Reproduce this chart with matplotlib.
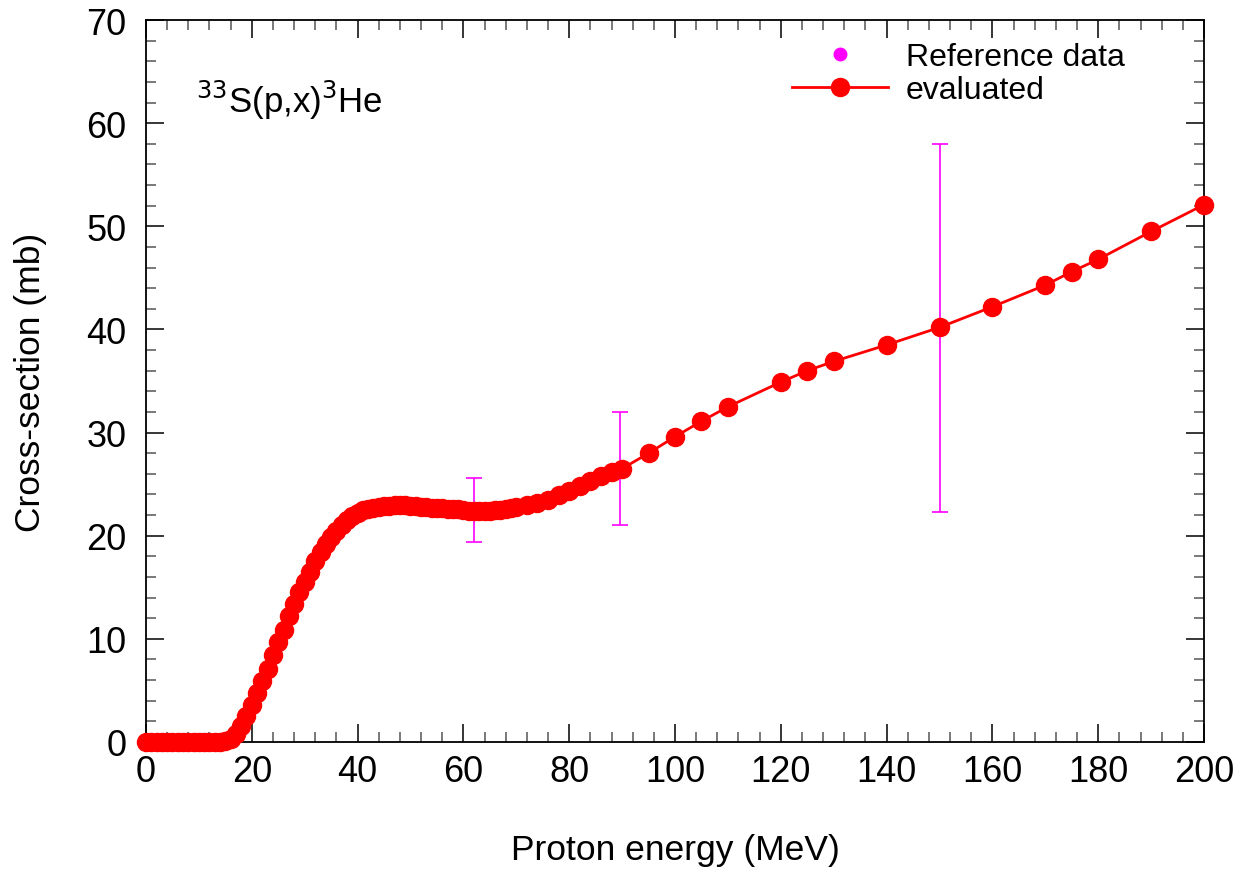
import matplotlib
matplotlib.use("Agg")
import matplotlib.pyplot as plt
from matplotlib.ticker import MultipleLocator

plt.rcParams['font.family'] = ['Liberation Sans', 'DejaVu Sans']

# evaluated cross-section (MeV, mb)
energy = list(range(0, 71)) + [72, 74, 76, 78, 80, 82, 84, 86, 88, 90,
                              95, 100, 105, 110, 120, 125, 130, 140, 150,
                              160, 170, 175, 180, 190, 200]
xs = ([0.0] * 14 +
      [0.02, 0.1, 0.3, 0.8, 1.5, 2.5, 3.6, 4.7, 5.9, 7.1,
       8.4, 9.7, 10.9, 12.2, 13.4, 14.5, 15.5, 16.5, 17.5, 18.4,
       19.2, 19.9, 20.5, 21.0, 21.5, 21.9, 22.2, 22.5, 22.6, 22.7,
       22.8, 22.9, 22.9, 23.0, 23.0, 23.0, 22.9, 22.9, 22.8, 22.8,
       22.7, 22.7, 22.7, 22.6, 22.6, 22.6, 22.5, 22.4, 22.4, 22.4,
       22.4, 22.4, 22.5, 22.5, 22.6, 22.7, 22.8] +
      [23.0, 23.2, 23.5, 23.9, 24.3, 24.8, 25.3, 25.8, 26.2, 26.5,
       28.0, 29.6, 31.1, 32.5, 34.9, 36.0, 36.9, 38.5, 40.2,
       42.2, 44.3, 45.6, 46.8, 49.5, 52.1])

# reference data
ref_e = [62.0, 89.6, 150.0]
ref_xs = [22.5, 26.5, 40.15]
ref_err = [3.1, 5.5, 17.85]

fig = plt.figure(figsize=(12.52, 8.78), dpi=100)
ax = fig.add_axes([0.1166, 0.1538, 0.8451, 0.8222])

ax.errorbar(ref_e, ref_xs, yerr=ref_err, fmt='none', ecolor='#ff00ff',
            elinewidth=1.2, capsize=6, capthick=1.2, zorder=2)
ax.plot(ref_e, ref_xs, 'o', color='#ff00ff', markersize=9, zorder=1,
        label='Reference data')
ax.plot(energy, xs, '-o', color='red', lw=2, markersize=13, zorder=3,
        clip_on=False, label='evaluated')

ax.set_xlim(0, 200)
ax.set_ylim(0, 70)
ax.xaxis.set_major_locator(MultipleLocator(20))
ax.xaxis.set_minor_locator(MultipleLocator(4))
ax.yaxis.set_major_locator(MultipleLocator(10))
ax.yaxis.set_minor_locator(MultipleLocator(2))
ax.tick_params(which='both', direction='in', top=True, right=True,
               labelsize=26, width=1.1)
ax.tick_params(which='major', length=13)
ax.tick_params(which='minor', length=7, color='#555555')
ax.tick_params(axis='y', pad=14)
ax.tick_params(axis='x', pad=9)
for s in ax.spines.values():
    s.set_linewidth(1.3)

ax.set_xlabel('Proton energy (MeV)', fontsize=25.5, labelpad=31)
ax.set_ylabel('Cross-section (mb)', fontsize=25.5, labelpad=28)

ax.text(0.047, 0.89, r'$^{33}$S(p,x)$^{3}$He', transform=ax.transAxes,
        fontsize=25, ha='left', va='center')

ax.legend(loc='upper left', bbox_to_anchor=(0.611, 0.97), frameon=False,
          fontsize=23, handlelength=3.0, handletextpad=0.55, labelspacing=0.1,
          borderpad=0, borderaxespad=0)

fig.savefig('out.png', dpi=100)
